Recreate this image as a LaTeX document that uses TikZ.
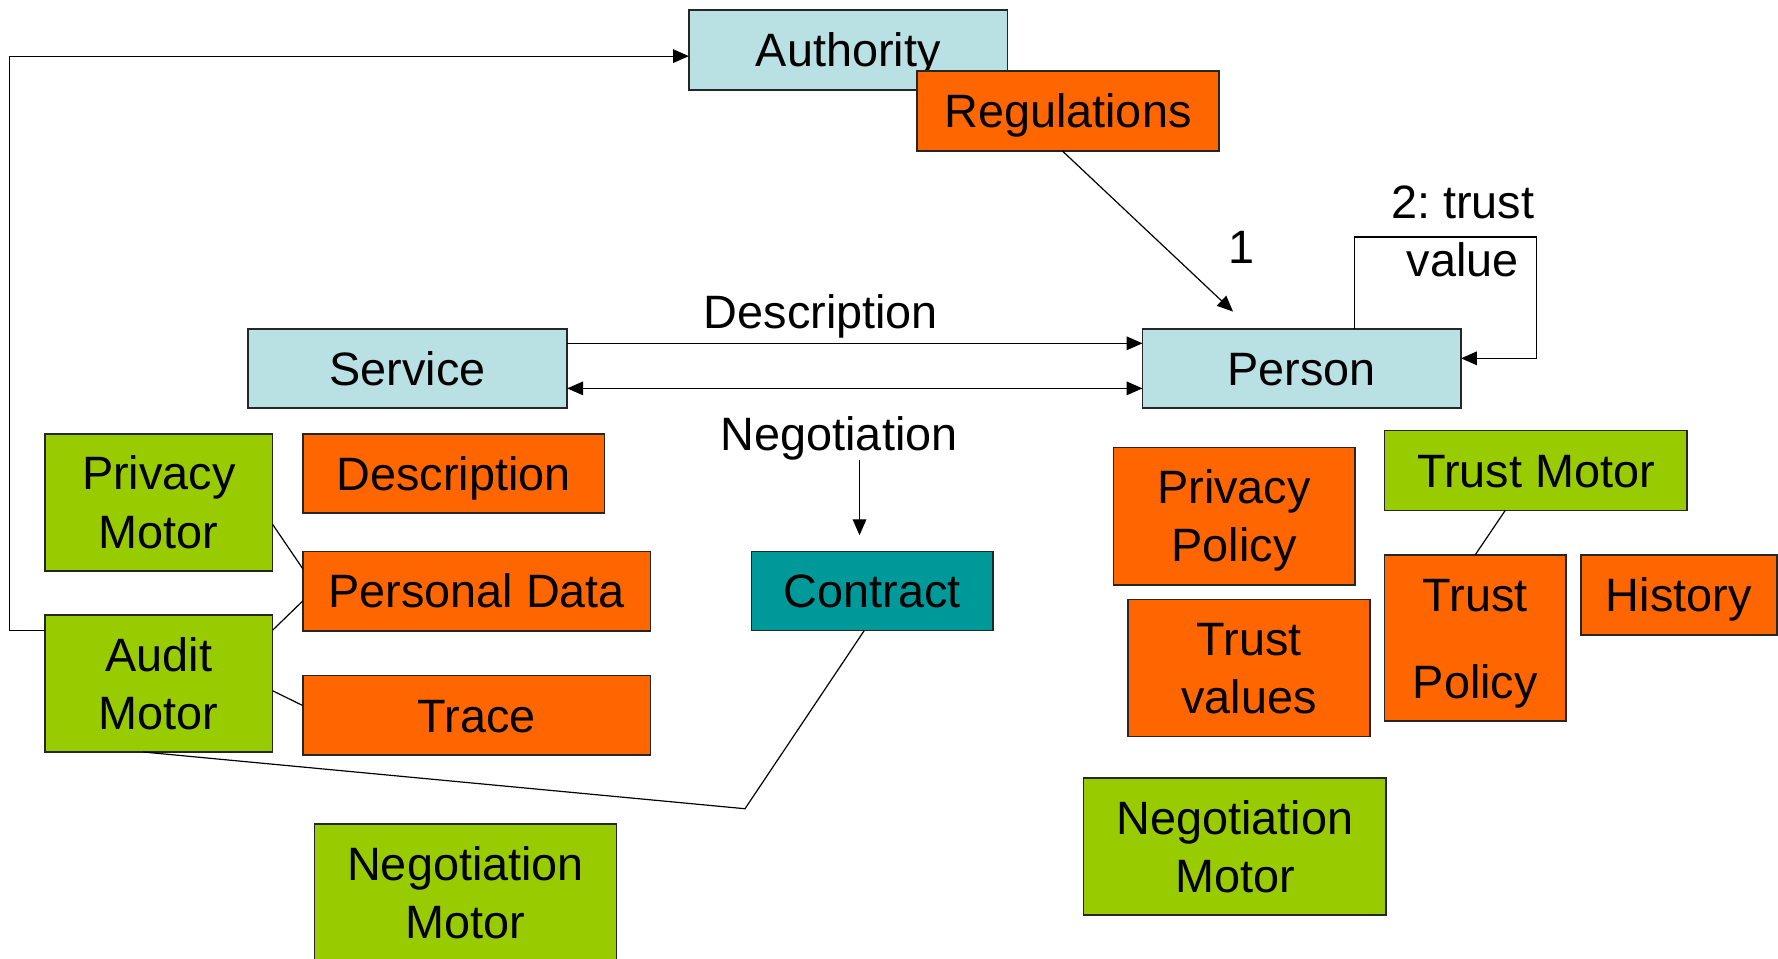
\documentclass[tikz,border=0pt]{standalone}
\usepackage{fontspec}
\setmainfont{Liberation Sans}
\usetikzlibrary{arrows.meta}
\definecolor{paleblue}{HTML}{B9E0E3}
\definecolor{warm}{HTML}{FF6600}
\definecolor{lime}{HTML}{99CC00}
\definecolor{contractteal}{HTML}{009999}
\tikzset{
  diagbox/.style={draw=black!85, line width=0.8pt, inner sep=0pt, outer sep=0pt,
    align=center, font=\fontsize{23.5}{29.2}\selectfont,
    text height=16.8pt, text depth=0pt},
  twoline/.style={text height=46pt},
  bluebox/.style={diagbox, fill=paleblue},
  orangebox/.style={diagbox, fill=warm},
  greenbox/.style={diagbox, fill=lime},
  tealbox/.style={diagbox, fill=contractteal},
  lbl/.style={font=\fontsize{23.5}{29.2}\selectfont, align=center,
    text height=16.8pt, text depth=0pt, inner sep=0.15cm},
  arr/.style={-{Triangle[length=0.28cm,width=0.24cm]}, line width=0.6pt},
  dblarr/.style={{Triangle[length=0.28cm,width=0.24cm]}-{Triangle[length=0.28cm,width=0.24cm]}, line width=0.6pt},
  link/.style={line width=0.6pt}
}
\begin{document}
\begin{tikzpicture}[x=0.02cm,y=-0.02cm]
  \useasboundingbox (0,0) rectangle (1568,845);

  % top: authority and its regulations
  \node[bluebox, minimum width=5.62cm, minimum height=1.41cm] (authority) at (748,44) {Authority};
  \node[orangebox, minimum width=5.33cm, minimum height=1.41cm] (regulations) at (941.75,97.75) {Regulations};

  \node[bluebox, minimum width=5.63cm, minimum height=1.40cm] (service) at (359.5,325) {Service};
  \node[bluebox, minimum width=5.62cm, minimum height=1.40cm] (person) at (1148,325) {Person};

  % service side
  \node[greenbox, twoline, minimum width=4.02cm, minimum height=2.42cm] (privmotor) at (140,443) {Privacy\\Motor};
  \node[greenbox, twoline, minimum width=4.02cm, minimum height=2.42cm] (auditmotor) at (140,602.7) {Audit\\Motor};
  \node[orangebox, minimum width=5.32cm, minimum height=1.40cm] (descbox) at (400,417.5) {Description};
  \node[orangebox, minimum width=6.13cm, minimum height=1.40cm] (pdata) at (420.4,521.3) {Personal Data};
  \node[orangebox, minimum width=6.13cm, minimum height=1.40cm] (trace) at (420.4,630.8) {Trace};
  \node[greenbox, twoline, minimum width=5.33cm, minimum height=2.42cm] (negmotorL) at (410.6,787) {Negotiation\\Motor};
  \node[tealbox, minimum width=4.26cm, minimum height=1.40cm] (contract) at (769.1,521.2) {Contract};

  % person side
  \node[orangebox, twoline, minimum width=4.26cm, minimum height=2.42cm] (privpol) at (1088.3,455.2) {Privacy\\Policy};
  \node[orangebox, twoline, minimum width=4.27cm, minimum height=2.42cm] (trustval) at (1101.5,589) {Trust\\values};
  \node[greenbox, minimum width=5.34cm, minimum height=1.41cm] (trustmotor) at (1354.5,414.8) {Trust Motor};
  \node[orangebox, text height=60.5pt, minimum width=3.20cm, minimum height=2.93cm] (trustpol) at (1301,562.5) {Trust\\[0.51cm]Policy};
  \node[orangebox, minimum width=3.46cm, minimum height=1.41cm] (history) at (1480.5,524.5) {History};
  \node[greenbox, twoline, minimum width=5.34cm, minimum height=2.42cm] (negmotorR) at (1089,746.4) {Negotiation\\Motor};

  % labels
  \node[lbl] (desclabel) at (724,274.7) {Description};
  \node[lbl] (neglabel) at (740,382.8) {Negotiation};
  \node[lbl] (onelabel) at (1094.6,217.4) {1};
  \node[lbl, twoline] (trustlabel) at (1290,203.4) {2:\ trust\\value};

  \coordinate (onetip) at (1087.4,274.8);
  \coordinate (negtip) at (758,472);
  \coordinate (kink) at (657,713.2);

  \draw[arr] ([yshift=-0.27cm]auditmotor.north west) -- ++(-0.62cm,0) |- ([yshift=-0.11cm]authority.west);
  \draw[arr] ([xshift=-0.1cm]regulations.south) -- (onetip);
  \draw[arr] ([yshift=0.445cm]service.east) -- ([yshift=0.445cm]person.west);
  \draw[dblarr] ([yshift=-0.35cm]service.east) -- ([yshift=-0.35cm]person.west);
  \draw[arr] ([xshift=0.93cm]person.north) -- ++(0,1.62cm) -- ++(3.21cm,0) |- ([yshift=0.18cm]person.east);
  \draw[arr] (neglabel.south -| negtip) -- (negtip);

  \draw[link] ([yshift=-0.39cm]privmotor.east) -- ([yshift=0.39cm]pdata.west);
  \draw[link] ([yshift=0.94cm]auditmotor.east) -- ([yshift=-0.17cm]pdata.west);
  \draw[link] ([yshift=-0.13cm]auditmotor.east) -- ([yshift=0.17cm]trace.west);
  \draw[link] ([xshift=-0.27cm]auditmotor.south) -- (kink) -- ([xshift=-0.14cm]contract.south);
  \draw[link] ([xshift=-0.54cm]trustmotor.south) -- (trustpol.north);
\end{tikzpicture}
\end{document}
